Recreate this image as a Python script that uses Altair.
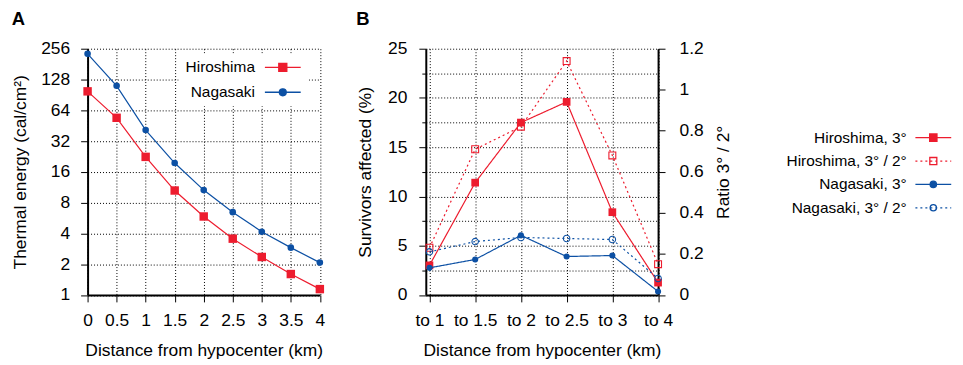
import json
import altair as alt
import pandas as pd

# ---------------- data: panel A ----------------
distance_km = [0, 0.5, 1, 1.5, 2, 2.5, 3, 3.5, 4]
hiroshima_energy = [98, 54, 22.4, 10.5, 5.85, 3.55, 2.35, 1.6, 1.14]
nagasaki_energy = [228, 111, 41, 19.5, 10.6, 6.45, 4.15, 2.9, 2.07]
energy_ticks = [1, 2, 4, 8, 16, 32, 64, 128, 256]
cities = ["Hiroshima", "Nagasaki"]

# ---------------- data: panel B ----------------
band_labels = ["to 1", "to 1.5", "to 2", "to 2.5", "to 3", "to 4"]
band_index = [1, 2, 3, 4, 5, 6]
hiroshima_3deg = [3.0, 11.4, 17.5, 19.6, 8.4, 1.25]
hiroshima_ratio = [0.23, 0.71, 0.82, 1.14, 0.68, 0.15]
nagasaki_3deg = [2.75, 3.6, 6.05, 3.9, 4.0, 0.35]
nagasaki_ratio = [0.21, 0.26, 0.28, 0.275, 0.27, 0.08]
series_b = ["Hiroshima, 3°", "Hiroshima, 3° / 2°", "Nagasaki, 3°", "Nagasaki, 3° / 2°"]
survivor_ticks = [0, 2.5, 5, 7.5, 10, 12.5, 15, 17.5, 20, 22.5, 25]
ratio_ticks = [0, 0.2, 0.4, 0.6, 0.8, 1, 1.2]

# ---------------- styles ----------------
RED = "#ED1C2E"
BLUE = "#0C50A4"
FONT = "Liberation Sans"
AXFS = 17.5
LEGFS = 15.5
W, H = 233.5, 247.5
SYM_SIZE = 256      # legend symbol size -> 1 path unit = 8 px
HALF_SLOT = 9       # half of legend symbol slot


def sq(h):
    return f"M{-h},{-h}H{h}V{h}H{-h}Z"


def circ(r):
    return f"M{-r},0A{r},{r},0,1,1,{r},0A{r},{r},0,1,1,{-r},0Z"


def dotted(half=2.25, dash=0.25, gap=0.375):
    parts, x = [], -half
    while x < half:
        x2 = min(x + dash, half)
        parts.append(f"M{x:.3f},0H{x2:.3f}")
        x += dash + gap
    return "".join(parts)


SOLID = "M-2.25,0H2.25"

# ---------------- panel A ----------------
dfA = pd.DataFrame({
    "city": [cities[0]] * len(distance_km) + [cities[1]] * len(distance_km),
    "km": distance_km + distance_km,
    "energy": hiroshima_energy + nagasaki_energy,
})

xA = alt.X("km:Q", scale=alt.Scale(domain=[0, 4], nice=False, zero=False),
           axis=alt.Axis(values=distance_km, format="~g", title="Distance from hypocenter (km)",
                         labelPadding=10, titlePadding=12.5, labelFlush=False, labelOverlap=False))
yA = alt.Y("energy:Q", scale=alt.Scale(type="log", base=2, domain=[1, 256], nice=False),
           axis=alt.Axis(values=energy_ticks, format="d", title="Thermal energy (cal/cm²)",
                         labelPadding=11, titlePadding=11, labelOverlap=False))

baseA = alt.Chart(dfA)
layersA = []
for city, col, shp, sz in zip(cities, [RED, BLUE], ["square", "circle"], [72, 44]):
    b = baseA.transform_filter(alt.datum.city == city)
    layersA.append(b.mark_line(color=col, strokeWidth=1.2).encode(x=xA, y=yA))
    layersA.append(b.mark_point(shape=shp, filled=True, color=col, size=sz, opacity=1).encode(x=xA, y=yA))

legA = alt.Legend(title=None, orient="none", legendX=91.5, legendY=4.8, padding=5,
                  fillColor="white", labelAlign="right",
                  labelOffset={"expr": str(-28 - HALF_SLOT)},
                  symbolOffset=90.75, symbolSize=SYM_SIZE, symbolStrokeWidth=1.4,
                  symbolOpacity=1, symbolFillColor="white", rowPadding=7,
                  labelFont=FONT, labelFontSize=LEGFS, labelColor="black", labelLimit=400)
scA = lambda rng: alt.Scale(domain=cities, range=rng)
pathsA = [SOLID + sq(0.5), SOLID + circ(0.43)]
layersA.append(baseA.mark_point(opacity=0, filled=False).encode(
    x=xA, y=yA,
    stroke=alt.Stroke("city:N", scale=scA([RED, BLUE]), legend=legA),
    fill=alt.Fill("city:N", scale=scA([RED, BLUE]), legend=legA),
    shape=alt.Shape("city:N", scale=scA(pathsA), legend=legA),
))

title_kw = dict(anchor="start", font=FONT, fontSize=18.5, fontWeight="bold", color="black",
                baseline="alphabetic", offset=-4)
panelA = alt.layer(*layersA).properties(width=W, height=H, title=alt.TitleParams("A", **title_kw))

# ---------------- panel B ----------------
dfB = pd.DataFrame({
    "series": sum([[s] * len(band_index) for s in series_b], []),
    "idx": band_index * 4,
    "value": hiroshima_3deg + hiroshima_ratio + nagasaki_3deg + nagasaki_ratio,
})

label_expr = f"{json.dumps(band_labels)}[datum.value - 1]"
xB = alt.X("idx:Q", scale=alt.Scale(domain=[0.92, 6], nice=False, zero=False),
           axis=alt.Axis(values=band_index, labelExpr=label_expr, title="Distance from hypocenter (km)",
                         labelPadding=10, titlePadding=12.5, labelFlush=False, labelOverlap=False))
yL = alt.Y("value:Q", scale=alt.Scale(domain=[0, 25], nice=False),
           axis=alt.Axis(values=survivor_ticks, format="~g",
                         labelExpr="datum.value % 5 == 0 ? datum.label : ''",
                         tickSize={"condition": {"test": "datum.value % 5 != 0", "value": 4}, "value": 7},
                         title="Survivors affected (%)", labelPadding=12, titlePadding=13.5,
                         labelOverlap=False))
yR = alt.Y("value:Q", scale=alt.Scale(domain=[0, 1.2], nice=False),
           axis=alt.Axis(orient="right", values=ratio_ticks, format="~g", grid=False,
                         title="Ratio 3° / 2°", titleAngle=270, titleBaseline="top",
                         labelPadding=14, titlePadding=11, labelOverlap=False))

baseB = alt.Chart(dfB)
left_layers, right_layers = [], []
specB = [
    (series_b[0], RED, "square", True, 60, left_layers, yL),
    (series_b[2], BLUE, "circle", True, 38, left_layers, yL),
    (series_b[1], RED, "square", False, 48, right_layers, yR),
    (series_b[3], BLUE, "circle", False, 42, right_layers, yR),
]
for s, col, shp, filled, sz, tgt, yy in specB:
    b = baseB.transform_filter(alt.datum.series == s)
    dash = [1, 0] if filled else [2, 3]
    tgt.append(b.mark_line(color=col, strokeWidth=1.2, strokeDash=dash).encode(x=xB, y=yy))
    tgt.append(b.mark_point(shape=shp, filled=filled, color=col, size=sz, opacity=1,
                            strokeWidth=1.1).encode(x=xB, y=yy))

legB = alt.Legend(title=None, orient="none", legendX=360.5, legendY=80.4, padding=0,
                  labelAlign="right",
                  labelOffset={"expr": str(-26.7 - HALF_SLOT)},
                  symbolOffset=140.7, symbolSize=SYM_SIZE, symbolStrokeWidth=1.3,
                  symbolOpacity=1, symbolFillColor="white", rowPadding=5.5,
                  labelFont=FONT, labelFontSize=LEGFS, labelColor="black", labelLimit=400)
scB = lambda rng: alt.Scale(domain=series_b, range=rng)
pathsB = [SOLID + sq(0.46), dotted() + sq(0.44), SOLID + circ(0.4), dotted() + circ(0.4)]
left_layers.append(baseB.mark_point(opacity=0, filled=False).encode(
    x=xB, y=yL,
    stroke=alt.Stroke("series:N", scale=scB([RED, RED, BLUE, BLUE]), legend=legB),
    fill=alt.Fill("series:N", scale=scB([RED, "transparent", BLUE, "transparent"]), legend=legB),
    shape=alt.Shape("series:N", scale=scB(pathsB), legend=legB),
))

panelB = alt.layer(alt.layer(*left_layers), alt.layer(*right_layers)).resolve_scale(
    y="independent").properties(width=W, height=H, title=alt.TitleParams("B", **title_kw))

chart = alt.hconcat(panelA, panelB, spacing=30).resolve_scale(
    stroke="independent", fill="independent", shape="independent"
).resolve_legend(
    stroke="independent", fill="independent", shape="independent"
).properties(
    padding={"left": 3, "top": 1, "right": 0, "bottom": 0}
).configure_view(stroke=None).configure_axis(
    grid=True, gridColor="black", gridDash=[1, 2], gridWidth=1, gridOpacity=1,
    tickSize=7, tickColor="black", tickWidth=1,
    domainColor="black", domainWidth=2,
    labelFont=FONT, labelFontSize=AXFS, labelColor="black",
    titleFont=FONT, titleFontSize=AXFS, titleFontWeight="normal", titleColor="black",
)

chart.save("out.html", embed_options={"renderer": "svg", "actions": False})
